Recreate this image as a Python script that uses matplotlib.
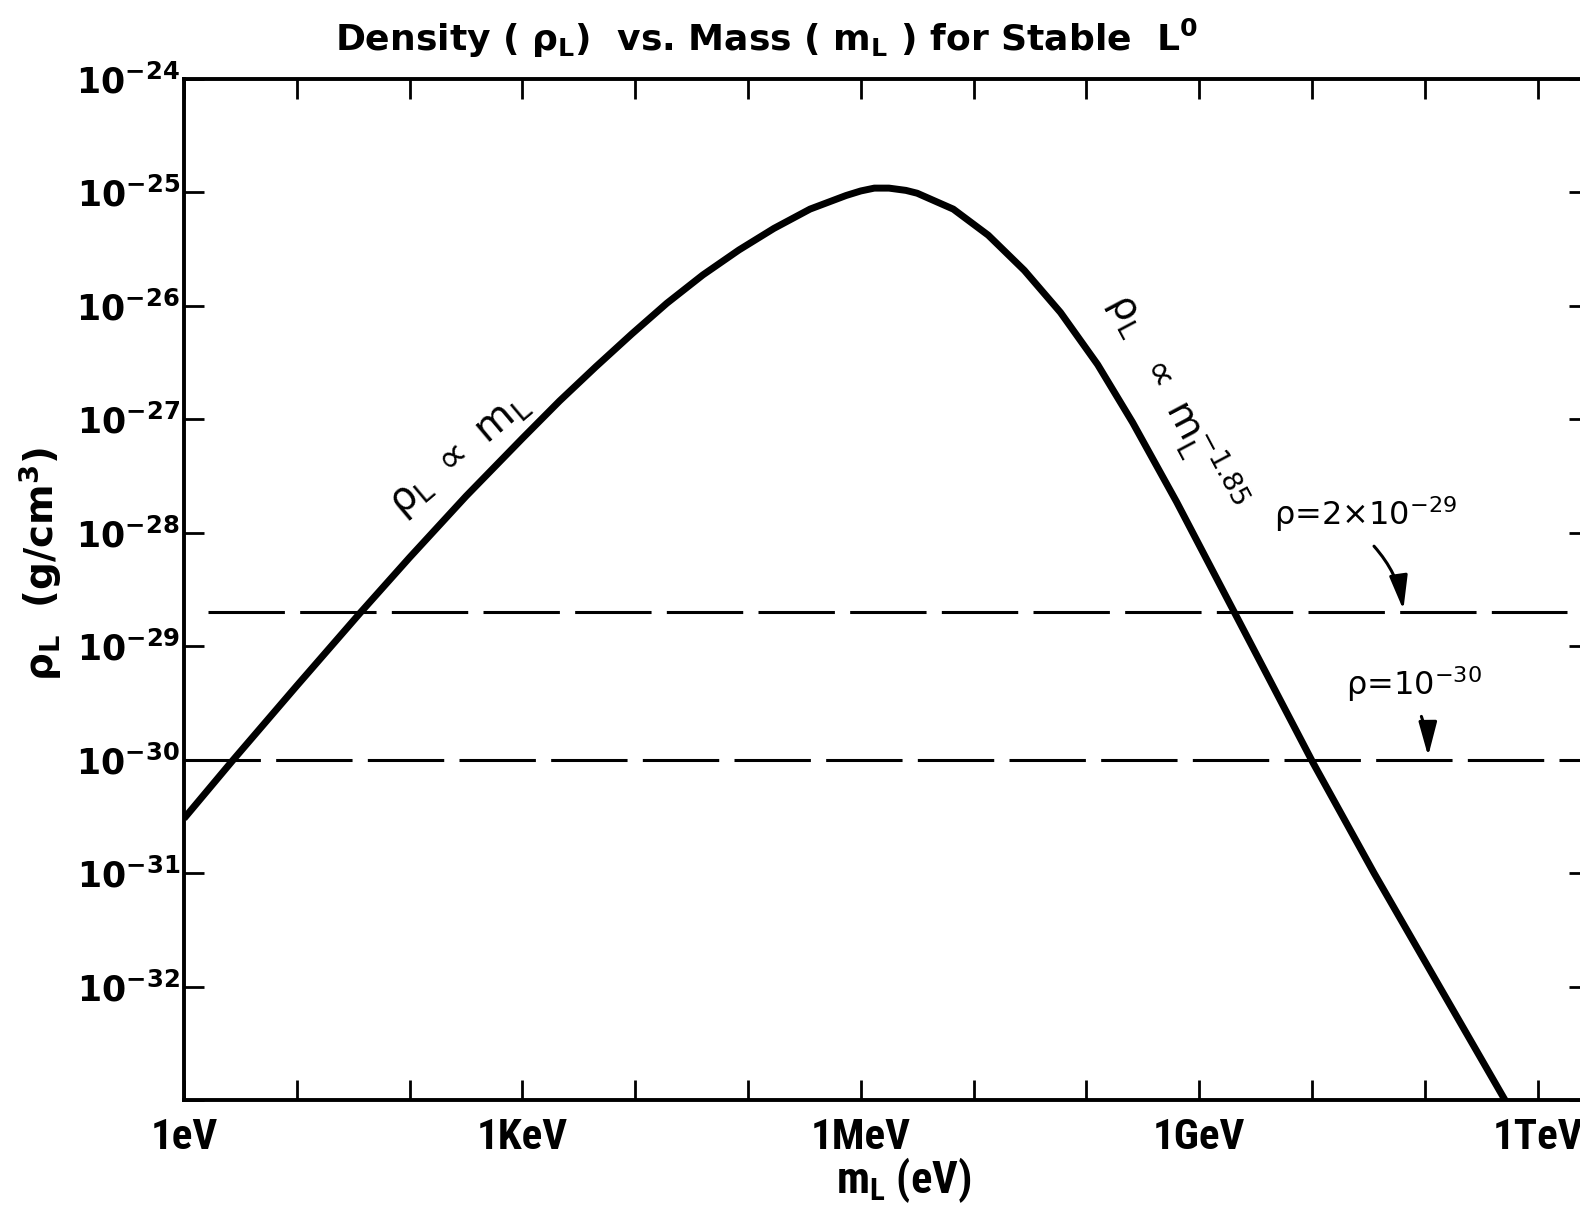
import matplotlib
matplotlib.use("Agg")
import matplotlib.pyplot as plt
from matplotlib import font_manager
from matplotlib.patches import FancyArrowPatch

# ---------------- data ----------------
# log10 of mass in eV, and log10 of density in g/cm^3
mass_exp = [0.00, 0.43, 1.00, 1.56, 2.00, 2.50, 3.00, 3.33, 3.65, 3.97, 4.28,
            4.60, 4.92, 5.23, 5.55, 5.87, 6.00, 6.12, 6.25, 6.40, 6.50, 6.82,
            7.13, 7.45, 7.77, 8.10, 8.41, 8.80, 9.30, 10.01, 10.55, 11.13, 11.74]
density_exp = [-30.52, -30.01, -29.35, -28.71, -28.22, -27.68, -27.17, -26.84,
               -26.54, -26.25, -25.98, -25.73, -25.51, -25.32, -25.15, -25.03,
               -24.99, -24.965, -24.965, -24.985, -25.01, -25.15, -25.38, -25.69,
               -26.06, -26.52, -27.03, -27.73, -28.68, -30.03, -31.00, -32.00,
               -33.05]
x_tick_exp = list(range(0, 13))
x_label_map = {0: "1eV", 3: "1KeV", 6: "1MeV", 9: "1GeV", 12: "1TeV"}
y_tick_exp = list(range(-33, -23))
limit_levels = [2e-29, 1e-30]
limit_labels = [r"$\rho$=2$\times$10$^{-29}$", r"$\rho$=10$^{-30}$"]

# ---------------- fonts ----------------
names = {f.name for f in font_manager.fontManager.ttflist}
def pick(*cands):
    for n in cands:
        if n in names:
            return n
    return "DejaVu Sans"
narrow = pick("Liberation Sans Narrow", "DejaVu Sans Condensed", "Roboto Condensed", "Liberation Sans")
plt.rcParams["font.family"] = ["DejaVu Sans"]
plt.rcParams["mathtext.fontset"] = "dejavusans"
plt.rcParams["mathtext.default"] = "regular"

W, H = 1580, 1209
fig = plt.figure(figsize=(W / 100, H / 100), dpi=100)
ax = fig.add_axes([184 / W, 1 - 1100 / H, (1589 - 184) / W, (1100 - 78.6) / H])

ax.set_xscale("log")
ax.set_yscale("log")
ax.set_xlim(1, 10 ** 12.456)
ax.set_ylim(1e-33, 1e-24)

# main curve
ax.plot([10 ** v for v in mass_exp], [10 ** v for v in density_exp], color="black",
        lw=5.0, solid_joinstyle="round", solid_capstyle="butt", zorder=3)

# dashed reference levels
ax.plot([10 ** 0.21, 10 ** 12.26], [limit_levels[0]] * 2, color="black", lw=2.2,
        linestyle=(0, (25, 5)), zorder=2)
ax.plot([1, 10 ** 12.46], [limit_levels[1]] * 2, color="black", lw=2.2,
        linestyle=(0, (25, 5)), zorder=2)

# ticks
ax.set_xticks([10.0 ** e for e in x_tick_exp])
ax.set_xticklabels([x_label_map.get(e, "") for e in x_tick_exp])
ax.set_yticks([10.0 ** e for e in y_tick_exp])
ax.set_yticklabels(["" if e == -33 else r"$10^{%d}$" % e for e in y_tick_exp])
ax.minorticks_off()
ax.tick_params(which="major", direction="in", length=14.5, width=2.0,
               top=True, right=True)
ax.tick_params(axis="x", pad=12, labelsize=31)
ax.tick_params(axis="y", pad=3, labelsize=25)
for lab in ax.get_xticklabels():
    lab.set_fontfamily(narrow)
    lab.set_fontweight("bold")
for lab in ax.get_yticklabels():
    lab.set_fontweight("bold")
for s in ax.spines.values():
    s.set_linewidth(2.8)

# title and axis labels
fig.text(766 / W, 1 - 38 / H, r"Density ( $\rho_L$)  vs. Mass ( m$_L$ ) for Stable  L$^0$",
         ha="center", va="center", fontsize=26, fontweight="bold")
fig.text(904 / W, 1 - 1180 / H, r"m$_L$ (eV)", ha="center", va="center",
         fontsize=32, fontweight="bold", family=narrow)
fig.text(40 / W, 1 - 564 / H, r"$\rho_L$  (g/cm$^3$)", ha="center", va="center",
         rotation=90, fontsize=28, fontweight="bold")

# slope annotations
ax.text(10 ** 2.45, 10 ** -27.32, r"$\rho_L$ $\propto$ m$_L$", rotation=40,
        ha="center", va="center", fontsize=29)
ax.text(10 ** 8.80, 10 ** -26.85, r"$\rho_L$  $\propto$ m$_L^{-1.85}$", rotation=-62,
        ha="center", va="center", fontsize=28)

# level labels with arrows
ax.text(10 ** 10.47, 10 ** -27.84, limit_labels[0], ha="center", va="center", fontsize=23)
ax.text(10 ** 10.90, 10 ** -29.34, limit_labels[1], ha="center", va="center", fontsize=23)
for (x0, y0, x1, y1, rad) in [(10.55, -28.12, 10.81, -28.68, -0.15),
                              (10.97, -29.62, 11.03, -29.97, -0.08)]:
    arr = FancyArrowPatch((10 ** x0, 10 ** y0), (10 ** x1, 10 ** y1),
                          connectionstyle="arc3,rad=%g" % rad,
                          arrowstyle="-|>,head_length=1.3,head_width=0.35",
                          mutation_scale=16, lw=2.2, color="black",
                          transform=ax.transData, shrinkA=0, shrinkB=0)
    ax.add_patch(arr)

fig.savefig("out.png", dpi=100)
